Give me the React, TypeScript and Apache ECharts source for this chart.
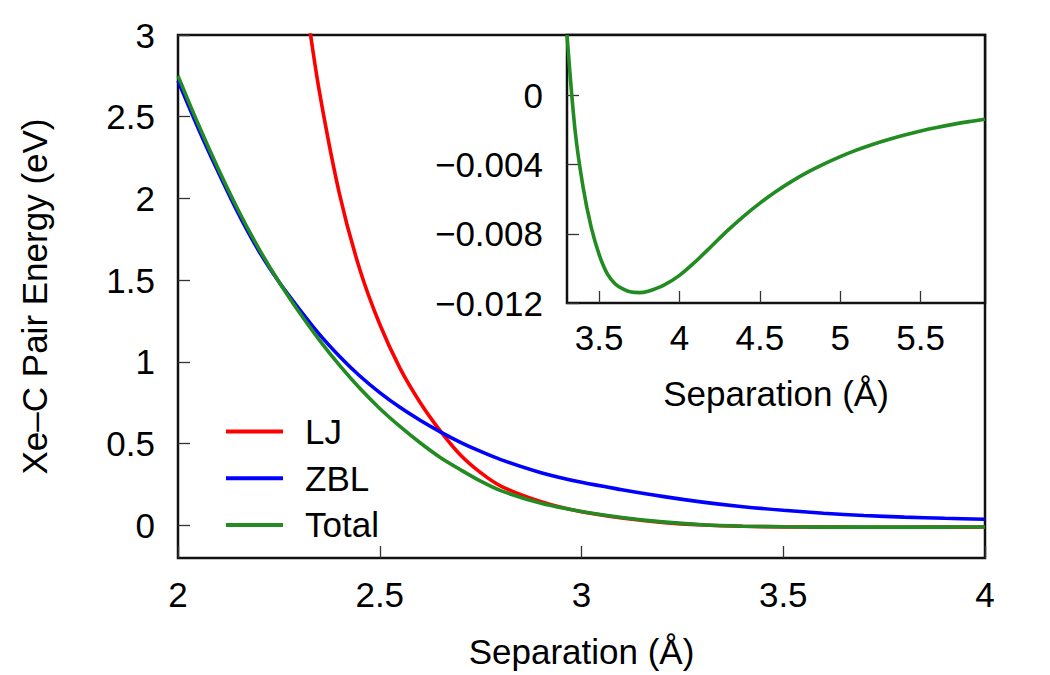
import React, { useEffect, useRef } from 'react';
import * as echarts from 'echarts';

// Separation grid (Å) shared by the ZBL and Total curves of the main panel
const sepGrid = [
  2.0, 2.05, 2.1, 2.15, 2.2, 2.25, 2.3, 2.35, 2.4, 2.45, 2.5, 2.55, 2.6, 2.65,
  2.7, 2.75, 2.8, 2.9, 3.0, 3.1, 3.2, 3.3, 3.4, 3.5, 3.6, 3.7, 3.8, 3.9, 4.0,
];
// ZBL pair energy (eV)
const zblEnergy = [
  2.72, 2.43, 2.16, 1.905, 1.68, 1.49, 1.325, 1.17, 1.035, 0.915, 0.812, 0.722, 0.643, 0.572,
  0.508, 0.452, 0.402, 0.322, 0.263, 0.218, 0.177, 0.142, 0.114, 0.092, 0.074, 0.06, 0.05, 0.043, 0.037,
];
// Total pair energy (eV)
const totalEnergy = [
  2.75, 2.455, 2.18, 1.925, 1.695, 1.49, 1.305, 1.135, 0.98, 0.84, 0.715, 0.605, 0.505, 0.415,
  0.34, 0.27, 0.212, 0.135, 0.085, 0.048, 0.021, 0.0035, -0.0053, -0.0092, -0.0109, -0.01137,
  -0.01133, -0.01098, -0.0104,
];
// Lennard-Jones curve (starts just above the top of the energy axis)
const ljSep = [
  2.32, 2.35, 2.4, 2.45, 2.5, 2.55, 2.6, 2.65, 2.7, 2.75, 2.8, 2.9, 3.0, 3.1, 3.2, 3.3,
  3.4, 3.5, 3.6, 3.7, 3.8, 3.9, 4.0,
];
const ljEnergy = [
  3.15, 2.66, 2.03, 1.57, 1.23, 0.962, 0.752, 0.578, 0.43, 0.322, 0.24, 0.145, 0.083, 0.045,
  0.018, 0.002, -0.006, -0.0095, -0.011, -0.0115, -0.0114, -0.0111, -0.0105,
];
// Potential well of the total energy, shown in the inset
const wellSep = [
  3.3, 3.35, 3.4, 3.45, 3.5, 3.55, 3.6, 3.65, 3.7, 3.75, 3.8, 3.9, 4.0, 4.1, 4.2, 4.3,
  4.4, 4.5, 4.6, 4.7, 4.8, 4.9, 5.0, 5.1, 5.2, 5.3, 5.4, 5.5, 5.6, 5.7, 5.8, 5.9,
];
const wellEnergy = [
  0.0035, -0.002, -0.0053, -0.0076, -0.0092, -0.0103, -0.0109, -0.0112, -0.01137, -0.0114,
  -0.01133, -0.01098, -0.0104, -0.0096, -0.0087, -0.0078, -0.00697, -0.00622, -0.00555,
  -0.00495, -0.00442, -0.00395, -0.00353, -0.00316, -0.00283, -0.00254, -0.00228, -0.00205,
  -0.00185, -0.00167, -0.00151, -0.00137,
];

// Tick positions
const mainXTicks = [2, 2.5, 3, 3.5, 4];
const mainYTicks = [0, 0.5, 1, 1.5, 2, 2.5, 3];
const insetXTicks = [3.5, 4, 4.5, 5, 5.5];
const insetYTicks = [-0.012, -0.008, -0.004, 0];

const FONT = '"Liberation Sans", Arial, Helvetica, sans-serif';
const FS = 35;
const RED = '#ff0000';
const BLUE = '#0000ff';
const GREEN = '#228b22';

const pair = (xs: number[], ys: number[]) => xs.map((x, i) => [x, ys[i]]);

const tickStyle = { inside: true, length: 12, lineStyle: { color: '#333', width: 1.3 } };
const labelText = { fontSize: FS, color: '#000', fontFamily: FONT };
const nameText = { fontSize: FS, color: '#000', fontFamily: FONT };

function buildOption() {
  const lineSeries = (name: string, color: string, data: number[][], xi: number, z: number) => ({
    type: 'line',
    name,
    xAxisIndex: xi,
    yAxisIndex: xi,
    data,
    showSymbol: false,
    symbol: 'none',
    smooth: 0.3,
    clip: true,
    z,
    lineStyle: { color, width: 3.6 },
    itemStyle: { color },
    emphasis: { disabled: true },
  });

  return {
    animation: false,
    backgroundColor: '#fff',
    textStyle: { fontFamily: FONT },
    legend: {
      orient: 'vertical',
      left: 221,
      top: 409,
      itemWidth: 57,
      itemHeight: 4,
      itemGap: 11.7,
      icon: 'rect',
      selectedMode: false,
      data: ['LJ', 'ZBL', 'Total'],
      textStyle: { ...labelText, padding: [0, 0, 0, 17] },
    },
    grid: [
      {
        left: 178, right: 65, top: 35, bottom: 117,
        show: true, borderColor: '#111', borderWidth: 2.5, backgroundColor: 'transparent', z: 0,
      },
      {
        left: 567, right: 65, top: 35, bottom: 372,
        show: true, borderColor: '#111', borderWidth: 2.5, backgroundColor: '#fff', z: 10,
      },
    ],
    xAxis: [
      {
        gridIndex: 0, type: 'value', min: 2, max: 4,
        axisLine: { show: false, onZero: false },
        axisTick: { ...tickStyle, customValues: mainXTicks },
        axisLabel: { ...labelText, margin: 19, customValues: mainXTicks, showMinLabel: true, showMaxLabel: true },
        splitLine: { show: false },
        name: 'Separation (Å)', nameLocation: 'middle', nameGap: 76, nameTextStyle: nameText,
      },
      {
        gridIndex: 1, type: 'value', min: 3.3, max: 5.9, z: 11,
        axisLine: { show: false, onZero: false },
        axisTick: { ...tickStyle, customValues: insetXTicks },
        axisLabel: { ...labelText, margin: 17, customValues: insetXTicks },
        splitLine: { show: false },
        name: 'Separation (Å)', nameLocation: 'middle', nameGap: 73, nameTextStyle: nameText,
      },
    ],
    yAxis: [
      {
        gridIndex: 0, type: 'value', min: -0.2, max: 3,
        axisLine: { show: false, onZero: false },
        axisTick: { ...tickStyle, customValues: mainYTicks },
        axisLabel: { ...labelText, margin: 23, customValues: mainYTicks },
        splitLine: { show: false },
        name: 'Xe–C Pair Energy (eV)', nameLocation: 'middle', nameGap: 126, nameTextStyle: nameText,
      },
      {
        gridIndex: 1, type: 'value', min: -0.012, max: 0.0035, z: 11,
        axisLine: { show: false, onZero: false },
        axisTick: { ...tickStyle, customValues: insetYTicks },
        axisLabel: {
          ...labelText, margin: 24, customValues: insetYTicks,
          formatter: (v: number) =>
            Math.abs(v) < 1e-9 ? '0' : (v < 0 ? '\u2212' : '') + Math.abs(v).toFixed(3),
        },
        splitLine: { show: false },
      },
    ],
    series: [
      lineSeries('LJ', RED, pair(ljSep, ljEnergy), 0, 2),
      lineSeries('ZBL', BLUE, pair(sepGrid, zblEnergy), 0, 3),
      lineSeries('Total', GREEN, pair(sepGrid, totalEnergy), 0, 4),
      lineSeries('Total well', GREEN, pair(wellSep, wellEnergy), 1, 12),
    ],
  };
}

export default function App() {
  const ref = useRef<HTMLDivElement>(null);
  useEffect(() => {
    if (!ref.current) return;
    const chart = echarts.init(ref.current, null, { renderer: 'svg' });
    chart.setOption(buildOption() as any);
    return () => chart.dispose();
  }, []);
  return (
    <div
      ref={ref}
      style={{ position: 'fixed', left: 0, top: 0, width: 1050, height: 675, background: '#fff' }}
    />
  );
}
